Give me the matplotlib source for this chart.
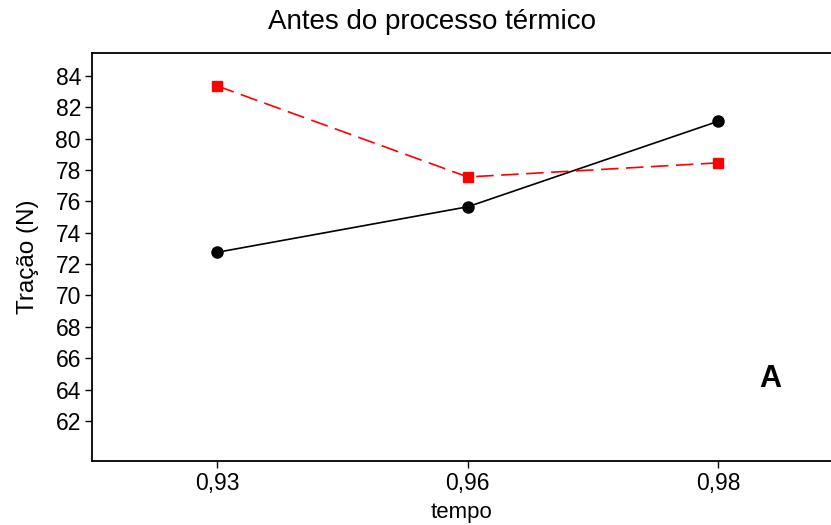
import matplotlib
matplotlib.use("Agg")
import matplotlib.pyplot as plt
from matplotlib import font_manager

# Data
tempo = ["0,93", "0,96", "0,98"]
tracao_serie1 = [72.75, 75.65, 81.1]
tracao_serie2 = [83.35, 77.55, 78.45]
y_ticks = [62, 64, 66, 68, 70, 72, 74, 76, 78, 80, 82, 84]

installed = {f.name for f in font_manager.fontManager.ttflist}
tick_font = "Liberation Sans Narrow" if "Liberation Sans Narrow" in installed else "Liberation Sans"
tick_size = 18 if tick_font == "Liberation Sans Narrow" else 16.5

fig = plt.figure(figsize=(8.31, 5.25), dpi=100)
ax = fig.add_axes([92 / 831, 64 / 525, 1 - 92 / 831, 408 / 525])

x = list(range(len(tempo)))
ax.plot(x, tracao_serie1, color="black", linestyle="-", linewidth=1.2,
        marker="o", markersize=8, zorder=3)
ax.plot(x, tracao_serie2, color="#ff0000", linestyle=(0, (10.5, 4.5)), linewidth=1.2,
        marker="s", markersize=7.5, zorder=3)

ax.set_xlim(-0.5, 2.45)
ax.set_ylim(59.45, 85.45)
ax.set_xticks(x)
ax.set_xticklabels(tempo, fontsize=tick_size, family=tick_font)
ax.set_yticks(y_ticks)
ax.set_yticklabels([str(v) for v in y_ticks], fontsize=tick_size, family=tick_font)
ax.tick_params(axis="both", direction="out", length=5, width=1, color="black", pad=3)

for side in ("left", "bottom", "top"):
    ax.spines[side].set_linewidth(1.3)
ax.spines["right"].set_visible(False)

ax.set_xlabel("tempo", fontsize=16, family="Liberation Sans", labelpad=5)
ax.set_ylabel("Tração (N)", fontsize=17.5, family="Liberation Sans", labelpad=12)
fig.text(432 / 831, 1 - 22 / 525, "Antes do processo térmico", ha="center", va="center",
         fontsize=20, family="Liberation Sans")

ax.text(0.918, 0.2, "A", transform=ax.transAxes, ha="center", va="center",
        fontsize=22, fontweight="bold", family="Liberation Sans")

fig.savefig("out.png", dpi=100)
